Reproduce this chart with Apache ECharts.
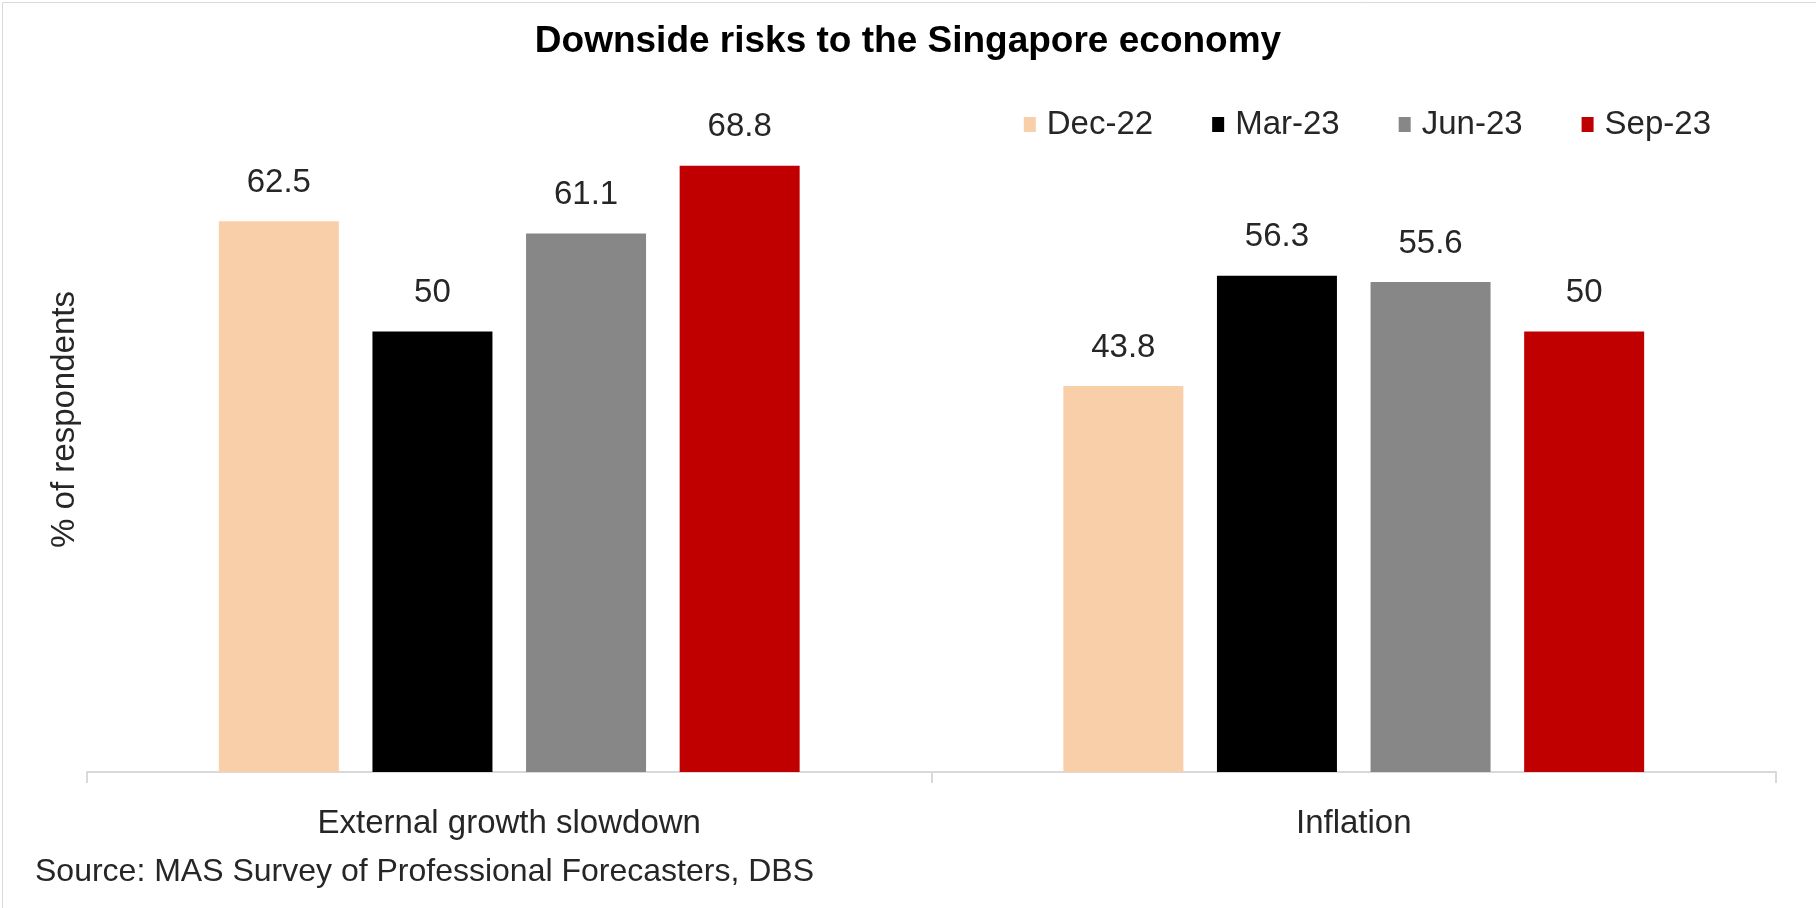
<!DOCTYPE html>
<html>
<head>
<meta charset="utf-8">
<script src="https://cdn.jsdelivr.net/npm/echarts@6/dist/echarts.min.js"></script>
<style>
  html, body { margin: 0; padding: 0; background: #ffffff; }
  #chart { width: 1816px; height: 908px; }
</style>
</head>
<body>
<div id="chart"></div>
<script>
// Survey rounds and the share of respondents citing each risk
const categories = ['External growth slowdown', 'Inflation'];
const seriesNames = ['Dec-22', 'Mar-23', 'Jun-23', 'Sep-23'];
const dec22 = [62.5, 43.8];
const mar23 = [50, 56.3];
const jun23 = [61.1, 55.6];
const sep23 = [68.8, 50];
const seriesColors = ['#F8CFA8', '#000000', '#878787', '#C00000'];

const FONT = '"Liberation Sans", Arial, sans-serif';
const TEXT = '#262626';

const chart = echarts.init(document.getElementById('chart'));

const values = [dec22, mar23, jun23, sep23];
const series = seriesNames.map((name, i) => ({
  name: name,
  type: 'bar',
  data: values[i],
  barWidth: 120,
  barGap: '28%',
  itemStyle: { color: seriesColors[i] },
  label: {
    show: true,
    position: 'top',
    distance: 22,
    color: TEXT,
    fontFamily: FONT,
    fontSize: 33
  }
}));

chart.setOption({
  animation: false,
  backgroundColor: '#ffffff',
  title: {
    text: 'Downside risks to the Singapore economy',
    left: 'center',
    top: 18,
    textStyle: { fontFamily: FONT, fontSize: 37, fontWeight: 'bold', color: '#000000' }
  },
  legend: {
    data: seriesNames,
    right: 100,
    top: 103,
    itemWidth: 12,
    itemHeight: 15,
    itemGap: 59,
    icon: 'rect',
    textStyle: { fontFamily: FONT, fontSize: 33, color: TEXT, padding: [0, 0, 0, 6] }
  },
  grid: { left: 87, right: 40, top: 67, bottom: 136 },
  xAxis: {
    type: 'category',
    data: categories,
    axisLine: { lineStyle: { color: '#D9D9D9', width: 2 } },
    axisTick: { show: true, length: 11, lineStyle: { color: '#D9D9D9', width: 2 } },
    axisLabel: { margin: 35, fontFamily: FONT, fontSize: 33, color: TEXT }
  },
  yAxis: {
    type: 'value',
    min: 0,
    max: 80,
    interval: 10,
    name: '% of respondents',
    nameLocation: 'middle',
    nameGap: 6,
    nameTextStyle: { fontFamily: FONT, fontSize: 33, color: TEXT },
    axisLine: { show: false },
    axisTick: { show: false },
    axisLabel: { show: false },
    splitLine: { show: false }
  },
  graphic: [
    {
      type: 'text',
      left: 35,
      top: 856,
      style: {
        text: 'Source: MAS Survey of Professional Forecasters, DBS',
        fontFamily: FONT,
        fontSize: 32,
        fill: TEXT
      }
    },
    {
      type: 'rect',
      left: 0,
      top: 0,
      shape: { width: 1815, height: 907 },
      style: { fill: 'none', stroke: '#D9D9D9', lineWidth: 1 },
      silent: true
    }
  ],
  series: series
});
</script>
</body>
</html>
